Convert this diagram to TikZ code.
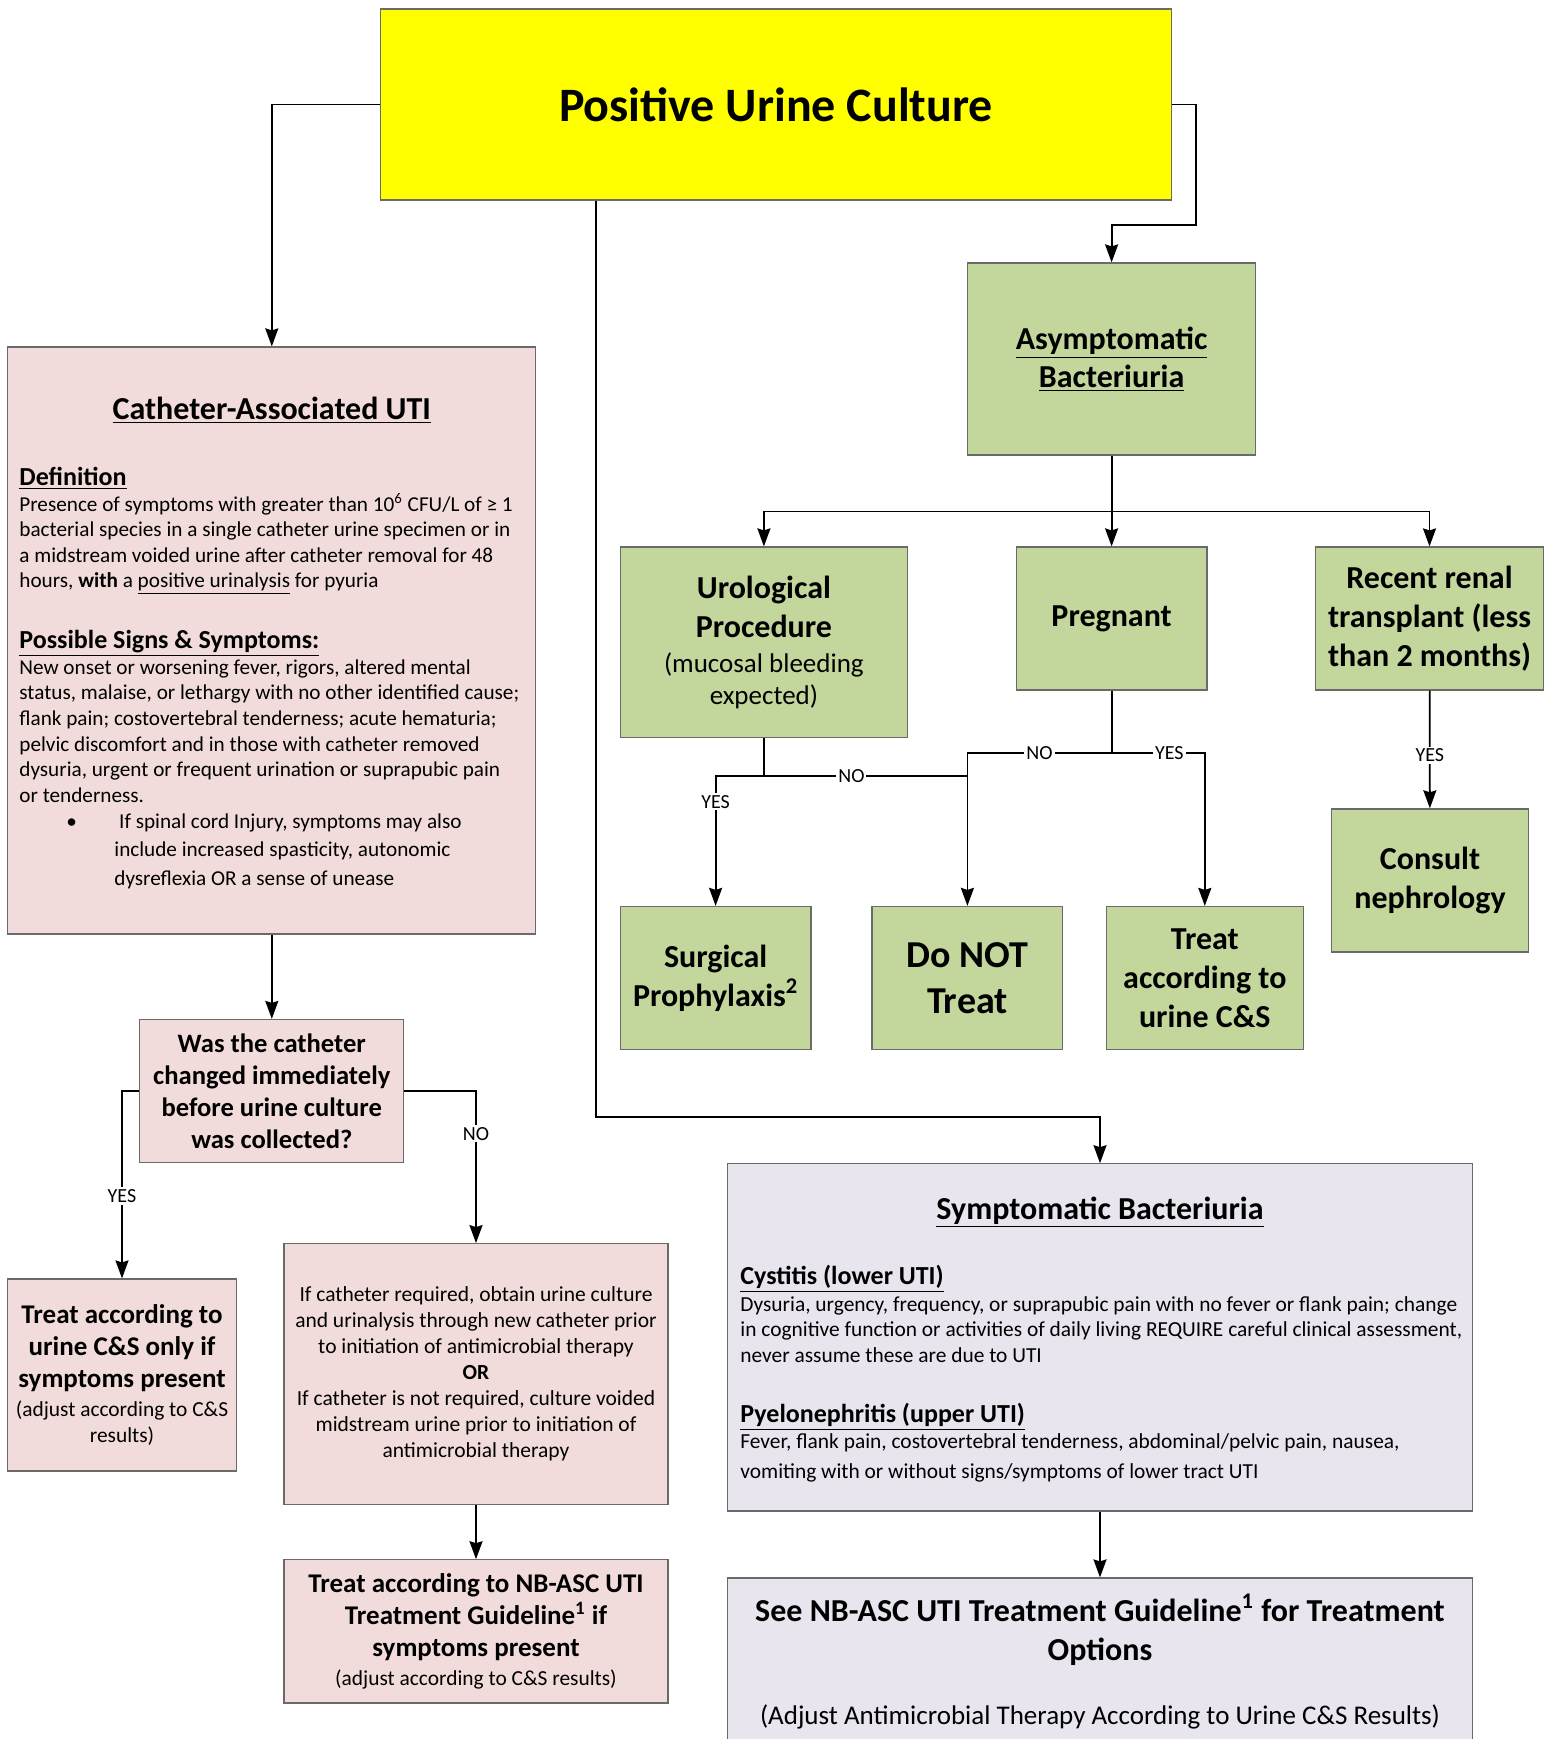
\documentclass[tikz,border=0pt]{standalone}
\usepackage{fontspec}
\setmainfont{Carlito}
\usetikzlibrary{arrows.meta, positioning}
\definecolor{culturey}{HTML}{FFFF00}
\definecolor{asbgreen}{HTML}{C3D69B}
\definecolor{cautipink}{HTML}{F2DCDB}
\definecolor{sblilac}{HTML}{E8E5EE}
\definecolor{edgegray}{HTML}{6A6A6A}
\newcommand{\fs}[2]{\fontsize{#1}{#2}\selectfont}

\begin{document}
\begin{tikzpicture}[x=0.5pt, y=-0.5pt, >={Stealth[length=9pt,width=6.5pt,inset=1pt]},
  box/.style={draw=edgegray, line width=0.6pt, align=center, inner sep=2pt},
  greenbox/.style={box, fill=asbgreen, font=\fs{16}{19.5}\bfseries},
  pinkbox/.style={box, fill=cautipink},
  lilacbox/.style={box, fill=sblilac},
  link/.style={->, line width=0.9pt},
  lbl/.style={fill=white, inner sep=1pt, font=\fs{10}{11}},
  txt/.style={anchor=base west, align=left, inner sep=0pt}]
  \useasboundingbox (0,0) rectangle (1551,1739);

  \node[box, fill=culturey, minimum width=395.5pt, minimum height=95.5pt, font=\fs{24}{29}\bfseries] (culture) at (776,104.5) {Positive Urine Culture};

  \node[pinkbox, minimum width=264pt, minimum height=293.5pt] (cauti) at (271.8,640.5) {};
  \node[txt, anchor=base, font=\fs{16}{19.5}\bfseries] (cautititle) at (271.8,419) {\underline{Catheter-Associated UTI}};
  \node[txt, font=\fs{13}{16}\bfseries] (defhead) at (19,485) {\underline{Definition}};
  \node[txt, font=\fs{10.6}{12.75}] (deftext) at (19,587.5) {Presence of symptoms with greater than 10\textsuperscript{6} CFU/L of ≥ 1\\bacterial species in a single catheter urine specimen or in\\a midstream voided urine after catheter removal for 48\\hours, \textbf{with} a \underline{positive urinalysis} for pyuria};
  \node[txt, font=\fs{13}{16}\bfseries] (signhead) at (19,648) {\underline{Possible Signs \& Symptoms:}};
  \node[txt, font=\fs{10.6}{12.85}] (signtext) at (19,802.5) {New onset or worsening fever, rigors, altered mental\\status, malaise, or lethargy with no other identified cause;\\flank pain; costovertebral tenderness; acute hematuria;\\pelvic discomfort and in those with catheter removed\\dysuria, urgent or frequent urination or suprapubic pain\\or tenderness.};
  \node[txt, font=\fs{10.6}{12}] (bullet) at (66,828) {•};
  \node[txt, font=\fs{10.6}{14.25}] (spinal) at (114,885) {\ If spinal cord Injury, symptoms may also\\include increased spasticity, autonomic\\dysreflexia OR a sense of unease};

  \node[greenbox, minimum width=144.2pt, minimum height=96pt, font=\fs{16}{18.9}\bfseries] (asb) at (1111.6,359) {\underline{Asymptomatic}\\\underline{Bacteriuria}};
  \node[greenbox, minimum width=143.6pt, minimum height=95.4pt] (uro) at (763.9,642.4) {Urological\\Procedure\\[-1.75pt]{\fs{13.5}{16}\mdseries (mucosal bleeding}\\[-3.4pt]{\fs{13.5}{16}\mdseries expected)}};
  \node[greenbox, minimum width=95.4pt, minimum height=71.5pt] (preg) at (1111.6,618.5) {Pregnant};
  \node[greenbox, minimum width=113.7pt, minimum height=71.5pt] (renal) at (1429.5,618.5) {Recent renal\\transplant (less\\than 2 months)};
  \node[greenbox, minimum width=98.7pt, minimum height=71.5pt] (nephro) at (1430,880.4) {Consult\\nephrology};
  \node[greenbox, minimum width=95.4pt, minimum height=71.5pt] (surg) at (715.6,978) {Surgical\\Prophylaxis\textsuperscript{2}};
  \node[greenbox, minimum width=95.4pt, minimum height=71.5pt, font=\fs{19}{23}\bfseries] (donot) at (967.4,978) {Do NOT\\Treat};
  \node[greenbox, minimum width=98.7pt, minimum height=71.5pt] (treatcs) at (1204.8,978) {Treat\\according to\\urine C\&S};

  \node[pinkbox, minimum width=132pt, minimum height=71.5pt, font=\fs{13.3}{16}\bfseries] (changed) at (271.8,1091) {Was the catheter\\changed immediately\\before urine culture\\was collected?};
  \node[pinkbox, minimum width=114.2pt, minimum height=96pt, font=\fs{13.5}{16}\bfseries] (treatonly) at (122,1375) {Treat according to\\urine C\&S only if\\symptoms present\\[-1.6pt]{\fs{10.7}{12.75}\mdseries (adjust according to C\&S}\\[-3.2pt]{\fs{10.7}{12.75}\mdseries results)}};
  \node[pinkbox, minimum width=192pt, minimum height=130.3pt, font=\fs{10.75}{13}] (recollect) at (476,1374) {If catheter required, obtain urine culture\\and urinalysis through new catheter prior\\to initiation of antimicrobial therapy\\\textbf{OR}\\If catheter is not required, culture voided\\midstream urine prior to initiation of\\antimicrobial therapy};
  \node[pinkbox, minimum width=192pt, minimum height=71.6pt, font=\fs{13.5}{16}\bfseries] (treatnb) at (476,1631.4) {Treat according to NB-ASC UTI\\Treatment Guideline\textsuperscript{1} if\\symptoms present\\[-1.5pt]{\fs{10.7}{12.75}\mdseries (adjust according to C\&S results)}};

  \node[lilacbox, minimum width=372.2pt, minimum height=173.6pt] (sb) at (1100,1337.4) {};
  \node[txt, anchor=base, font=\fs{16}{19.5}\bfseries] (sbtitle) at (1100,1219) {\underline{Symptomatic Bacteriuria}};
  \node[txt, font=\fs{13}{16}\bfseries] (cyshead) at (740,1284) {\underline{Cystitis (lower UTI)}};
  \node[txt, font=\fs{10.7}{12.75}] (cystext) at (740,1362) {Dysuria, urgency, frequency, or suprapubic pain with no fever or flank pain; change\\in cognitive function or activities of daily living REQUIRE careful clinical assessment,\\never assume these are due to UTI};
  \node[txt, font=\fs{13}{16}\bfseries] (pyehead) at (740,1422) {\underline{Pyelonephritis (upper UTI)}};
  \node[txt, font=\fs{10.7}{15}] (pyetext) at (740,1478) {Fever, flank pain, costovertebral tenderness, abdominal/pelvic pain, nausea,\\vomiting with or without signs/symptoms of lower tract UTI};

  \node[lilacbox, minimum width=372.2pt, minimum height=111pt] (guide) at (1100,1689) {};
  \node[txt, anchor=base, align=center, font=\fs{16}{19.4}\bfseries] (guidetext) at (1100,1660) {See NB-ASC UTI Treatment Guideline\textsuperscript{1} for Treatment\\Options};
  \node[txt, anchor=base, font=\fs{13.5}{16}] (guidenote) at (1100,1724) {(Adjust Antimicrobial Therapy According to Urine C\&S Results)};

  \coordinate (rturn) at (1196,225);
  \coordinate (midturn) at (595.8,1117);
  \coordinate (bar) at (1111.6,511.4);
  \coordinate (urojoin) at (763.9,775.6);
  \coordinate (pregjoin) at (1111.6,753);

  \draw[link] (culture.west) -| (cauti.north);
  \draw[link] (culture.east) -| (rturn) -| (asb.north);
  \draw[link] (midturn |- culture.south) -- (midturn) -| (sb.north);
  \draw[link] (asb.south) -- (bar) -| (uro.north);
  \draw[link] (bar) -- (preg.north);
  \draw[link] (bar) -| (renal.north);
  \draw[line width=0.9pt] (uro.south) -- (urojoin) -- node[lbl, pos=0.43] {NO} (urojoin -| donot.north);
  \draw[link] (urojoin) -| node[lbl, pos=0.6] {YES} (surg.north);
  \draw[line width=0.9pt] (preg.south) -- (pregjoin);
  \draw[link] (pregjoin) -| node[lbl, pos=0.25] {NO} (donot.north);
  \draw[link] (pregjoin) -| node[lbl, pos=0.31] {YES} (treatcs.north);
  \draw[link] (renal) -- node[lbl, pos=0.55] {YES} (nephro);
  \draw[link] (cauti) -- (changed);
  \draw[link] (changed.west) -| node[lbl, pos=0.78] {YES} (treatonly.north);
  \draw[link] (changed.east) -| node[lbl, pos=0.64] {NO} (recollect.north);
  \draw[link] (recollect) -- (treatnb);
  \draw[link] (sb) -- (guide);
\end{tikzpicture}
\end{document}
